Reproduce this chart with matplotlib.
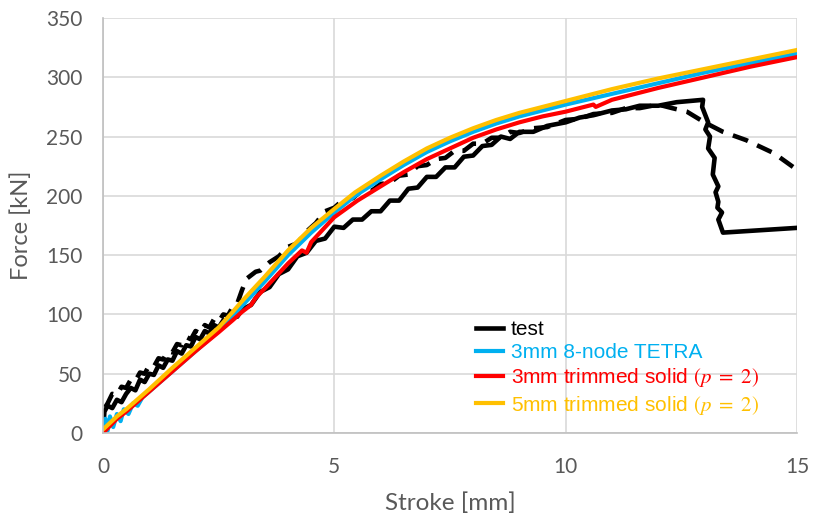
# force vs stroke: test vs three simulations
import matplotlib
matplotlib.use('Agg')
import matplotlib.pyplot as plt

plt.rcParams['mathtext.fontset'] = 'stix'

# test 1 (solid line, drops after peak)
test1_x = [0, 0.03, 0.1, 0.2, 0.3, 0.4, 0.5, 0.6, 0.7, 0.8, 0.9, 1.0, 1.1, 1.2, 1.3, 1.4, 1.5,
           1.6, 1.7, 1.8, 1.9, 2.0, 2.1, 2.2, 2.3, 2.4, 2.5, 2.6, 2.7, 2.8, 2.9, 3.0,
           3.2, 3.4, 3.6, 3.8, 4.0, 4.2, 4.4, 4.6, 4.8, 5.0, 5.2, 5.4, 5.6, 5.8, 6.0, 6.2,
           6.4, 6.6, 6.8, 7.0, 7.2, 7.4, 7.6, 7.8, 8.0, 8.2, 8.4, 8.6, 8.8, 9.0,
           9.3, 9.6, 10.0, 10.3, 10.6, 11.0, 11.3, 11.6, 12.0, 12.4, 12.97,
           12.95, 13.08, 13.02, 13.12, 13.08, 13.22, 13.18, 13.3, 13.24, 13.3,
           13.28, 13.38, 13.3, 13.4, 15.0]
test1_y = [0, 18, 23, 21, 28, 26, 33, 38, 36, 45, 43, 50, 49, 57, 55, 62, 61,
           69, 67, 74, 73, 81, 79, 86, 84, 91, 89, 95, 93, 99, 98, 104,
           108, 119, 123, 134, 138, 149, 152, 162, 164, 174, 173, 180, 180, 187, 187, 196,
           196, 206, 207, 216, 216, 224, 224, 233, 234, 242, 243, 250, 248, 254,
           254, 259, 262, 266, 268, 272, 273, 276, 276, 279, 281,
           275, 262, 256, 250, 240, 232, 218, 208, 203, 195,
           190, 186, 180, 169, 173]

# test 2 (dashed line)
test2_x = [0, 0.02, 0.1, 0.2, 0.3, 0.4, 0.5, 0.6, 0.7, 0.8, 0.9, 1.0, 1.1, 1.2, 1.3, 1.4, 1.5,
           1.6, 1.7, 1.8, 1.9, 2.0, 2.1, 2.2, 2.3, 2.4, 2.5, 2.6, 2.7, 2.8, 2.9, 3.0,
           3.1, 3.2, 3.3, 3.4, 3.6, 3.8, 4.0, 4.2, 4.4, 4.6, 4.8, 5.0, 5.2, 5.4, 5.6, 5.8,
           6.0, 6.2, 6.4, 6.6, 6.8, 7.0, 7.2, 7.4, 7.6, 7.8, 8.0, 8.2, 8.4, 8.6, 8.8, 9.0,
           9.3, 9.6, 10.0, 10.3, 10.6, 11.0, 11.3, 11.6, 12.0, 12.3,
           12.62, 13.0, 13.4, 13.9, 14.5, 15.0]
test2_y = [0, 20, 25, 33, 32, 39, 38, 45, 44, 51, 50, 57, 56, 63, 62, 69, 68,
           75, 74, 81, 79, 86, 84, 91, 89, 96, 94, 100, 99, 106, 109, 120,
           130, 133, 136, 137, 144, 149, 157, 160, 170, 177, 187, 190, 197, 198, 205, 204,
           210, 211, 217, 218, 225, 226, 231, 232, 238, 238, 244, 244, 249, 249, 254, 253,
           257, 258, 264, 265, 269, 270, 274, 274, 277, 274,
           271, 262, 254, 247, 236, 222]

# 3mm 8-node TETRA
tetra_x = [0, 0.05, 0.1, 0.15, 0.22, 0.3, 0.38, 0.45, 0.55, 0.65, 0.75, 0.85, 1.0, 1.5,
           2.0, 2.5, 2.8, 3.0, 3.5, 4.0, 4.5, 5.0, 5.45, 6.0, 6.5, 7.0, 7.5, 8.0, 8.5, 9.0,
           9.5, 10.0, 11.0, 12.0, 13.0, 14.0, 15.0]
tetra_y = [0, 12, 2, 14, 5, 16, 10, 20, 16, 25, 23, 30, 35, 52,
           69, 86, 98, 107, 128, 150, 169, 186, 200, 214, 226, 237, 246, 254, 261, 267,
           272, 277, 286, 295, 304, 312, 320]

# 3mm trimmed solid (p=2)
red_x = [0, 0.3, 0.5, 1.0, 1.5, 2.0, 2.5, 2.8, 3.0, 3.2, 3.3, 3.5, 4.0, 4.3, 4.4, 4.5,
         5.0, 5.5, 6.0, 6.5, 7.0, 7.5, 8.0, 8.5, 9.0, 9.5, 10.0, 10.6, 10.65, 11.0, 12.0,
         13.0, 14.0, 15.0]
red_y = [0, 12, 18, 35, 52, 69, 85, 95, 102, 108, 114, 122, 143, 154, 152, 161,
         182, 196, 208, 220, 231, 240, 249, 256, 262, 267, 271, 277, 275, 281, 291,
         300, 309, 317]

# 5mm trimmed solid (p=2)
orange_x = [0, 0.3, 0.5, 1.0, 1.5, 2.0, 2.5, 2.8, 3.0, 3.5, 4.0, 4.5, 5.0, 5.45, 6.0, 6.5,
            7.0, 7.5, 8.0, 8.5, 9.0, 9.5, 10.0, 11.0, 12.0, 13.0, 14.0, 15.0]
orange_y = [3, 14, 20, 37, 55, 72, 89, 102, 111, 132, 154, 173, 189, 203, 217, 229,
            240, 249, 257, 264, 270, 275, 280, 290, 299, 307, 315, 323]

fig = plt.figure(figsize=(8.13, 5.2), dpi=100)
ax = fig.add_axes([0.1267, 0.1673, 0.8536, 0.7981])

lw = 3
l_test, = ax.plot(test1_x, test1_y, color='black', lw=3.3, solid_joinstyle='round', label='test')
ax.plot(test2_x, test2_y, color='black', lw=3.3, ls=(0, (3.5, 2.2)))
l_blue, = ax.plot(tetra_x, tetra_y, color='#00B0F0', lw=lw, label='3mm 8-node TETRA')
l_red, = ax.plot(red_x, red_y, color='#FF0000', lw=lw, label=r'3mm trimmed solid $(p\ =\ 2)$')
l_or, = ax.plot(orange_x, orange_y, color='#FFC000', lw=lw, label=r'5mm trimmed solid $(p\ =\ 2)$')

ax.set_xlim(0, 15)
ax.set_ylim(0, 350)
ax.set_xticks([0, 5, 10, 15])
ax.set_yticks(range(0, 351, 50))
ax.grid(True, color='#d9d9d9', lw=1.2)
ax.set_axisbelow(True)
for s in ['top', 'right']:
    ax.spines[s].set_visible(False)
for s in ['left', 'bottom']:
    ax.spines[s].set_color('#bfbfbf')
    ax.spines[s].set_linewidth(1.2)

ax.tick_params(length=0, labelsize=15, labelcolor='#595959')
ax.tick_params(axis='y', pad=15)
ax.tick_params(axis='x', pad=17)
for t in ax.get_xticklabels() + ax.get_yticklabels():
    t.set_family('Lato')

ax.set_xlabel('Stroke [mm]', fontsize=17.5, color='#595959', family='Lato', labelpad=11)
ax.set_ylabel('Force [kN]', fontsize=17, color='#595959', family='Lato', labelpad=10)

leg = ax.legend(handles=[l_test, l_blue, l_red, l_or], loc='upper left',
                bbox_to_anchor=(0.523, 0.297), frameon=False, borderpad=0,
                handlelength=1.3, handletextpad=0.35, labelspacing=0.2,
                prop={'family': 'Liberation Sans', 'size': 15}, labelcolor='linecolor')

plt.savefig('out.png', dpi=100)
